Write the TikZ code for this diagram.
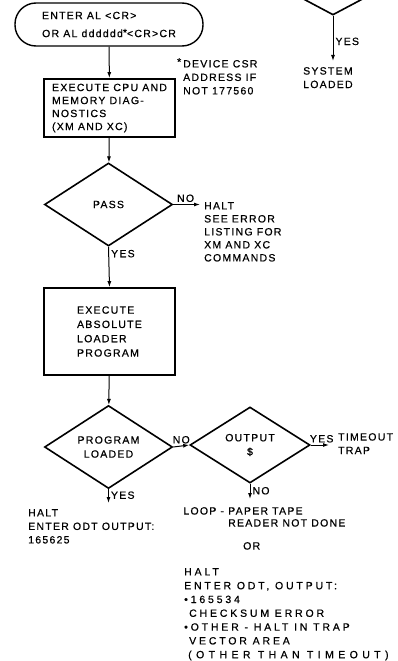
\documentclass[tikz,border=0pt]{standalone}
\usepackage{fontspec}
\setmainfont{Liberation Sans}[LetterSpace=12, FakeBold=0.6]
\newfontfamily\widefont{Liberation Sans}[LetterSpace=27, FakeBold=0.6]
\newfontfamily\widerfont{Liberation Sans}[LetterSpace=42, FakeBold=0.6]
\usetikzlibrary{arrows.meta}
\usetikzlibrary{shapes.geometric}

\tikzset{
	box/.style = {draw, line width=1.8pt, minimum width=131pt, align=left, inner sep=0pt},
	decision/.style = {draw, diamond, line width=1.6pt, aspect=1.5, inner sep=0pt, align=center},
	terminal/.style = {draw, line width=1.4pt, rounded corners=21pt, minimum width=188pt, minimum height=43pt, align=left, inner sep=0pt},
	note/.style = {anchor=north west, align=left, inner sep=0pt},
	flow/.style = {-{Latex[length=6pt,width=4pt]}, line width=1pt},
	tag/.style = {inner sep=2pt}
}

\begin{document}
\begin{tikzpicture}[x=1pt, y=-1pt, font=\fontsize{10.5}{13.5}\selectfont]
		\useasboundingbox (0, 0) rectangle (397, 661);
		\begin{scope}
			\clip (0, 0) rectangle (397, 661);
			\node [decision, minimum width=120pt, minimum height=64pt] (sys) at (333, -17) {};
		\end{scope}
		\node [terminal, font=\fontsize{10.5}{18}\selectfont] (enter) at (109, 24.5) {ENTER AL <CR>\\OR AL dddddd\raisebox{1pt}{*}<CR>CR};
		\node [box, minimum height=58pt, font=\fontsize{10.5}{13}\selectfont] (diag) at (109.5, 108) {EXECUTE CPU AND\\MEMORY DIAG-\\NOSTICS\\(XM AND XC)};
		\node [decision, minimum width=128pt, minimum height=83pt] (pass) at (108.5, 204.5) {PASS};
		\node [box, minimum height=87pt, font=\fontsize{10.5}{14.3}\selectfont] (loader) at (109.5, 331.5) {EXECUTE\\ABSOLUTE\\LOADER\\PROGRAM};
		\node [decision, minimum width=128pt, minimum height=83pt, font=\fontsize{10.5}{14}\selectfont] (loaded) at (108.5, 447) {PROGRAM\\LOADED};
		\node [decision, minimum width=120pt, minimum height=76pt, font=\fontsize{10.5}{14}\selectfont] (output) at (250, 445) {OUTPUT\\\$};

		\node [note] (csr) at (183, 58) {\llap{\raisebox{2pt}{*}\hspace{2pt}}DEVICE CSR\\ADDRESS IF\\NOT 177560};
		\node [note] (sysload) at (303, 67) {SYSTEM\\LOADED};
		\node [note, font=\fontsize{10.5}{13}\selectfont] (haltpass) at (204, 202) {HALT\\SEE ERROR\\LISTING FOR\\XM AND XC\\COMMANDS};
		\node [note] (timeout) at (338, 433) {TIMEOUT\\TRAP};
		\node [note, font=\fontsize{10.5}{12}\selectfont] (loop) at (228, 507) {\llap{LOOP - }PAPER TAPE\\READER NOT DONE};
		\node [note] (or) at (243, 542) {OR};
		\node [note] (haltload) at (28, 509) {HALT\\ENTER ODT OUTPUT:\\165625};
		\node [note, font=\widefont\fontsize{10.5}{13.8}\selectfont] (haltodt) at (184, 568) {HALT\\ENTER ODT, OUTPUT:\\\textbullet165534\\\hspace*{5pt}CHECKSUM ERROR\\\textbullet OTHER - HALT IN TRAP\\\hspace*{5pt}VECTOR AREA\\\hspace*{4pt}{\widerfont (OTHER THAN TIMEOUT)}};

		\draw [flow] (enter) -- (diag);
		\draw [flow] (diag) -- (pass);
		\draw [flow, shorten >=4pt] (pass.east) -- (pass.east -| haltpass.west) node[tag, pos=.4, above] {NO};
		\draw [flow] (pass.south) -- (loader.north) node[tag, pos=.17, right] {YES};
		\draw [flow] (loader) -- (loaded);
		\draw [flow] (loaded.east) -- (output.west) node[tag, pos=.5, above] {NO};
		\draw [flow, shorten >=9pt] (output.east) -- (output.east -| timeout.west) node[tag, pos=.4, above] {YES};
		\draw [flow, shorten >=8pt] (output.south) -- (output.south |- loop.north) node[tag, pos=.3, right] {NO};
		\draw [flow, shorten >=6pt] (loaded.south) -- (loaded.south |- haltload.north) node[tag, pos=.3, right] {YES};
		\draw [flow, shorten >=6pt] (sys.south) -- (sys.south |- sysload.north) node[tag, pos=.5, right] {YES};
	\end{tikzpicture}
\end{document}
